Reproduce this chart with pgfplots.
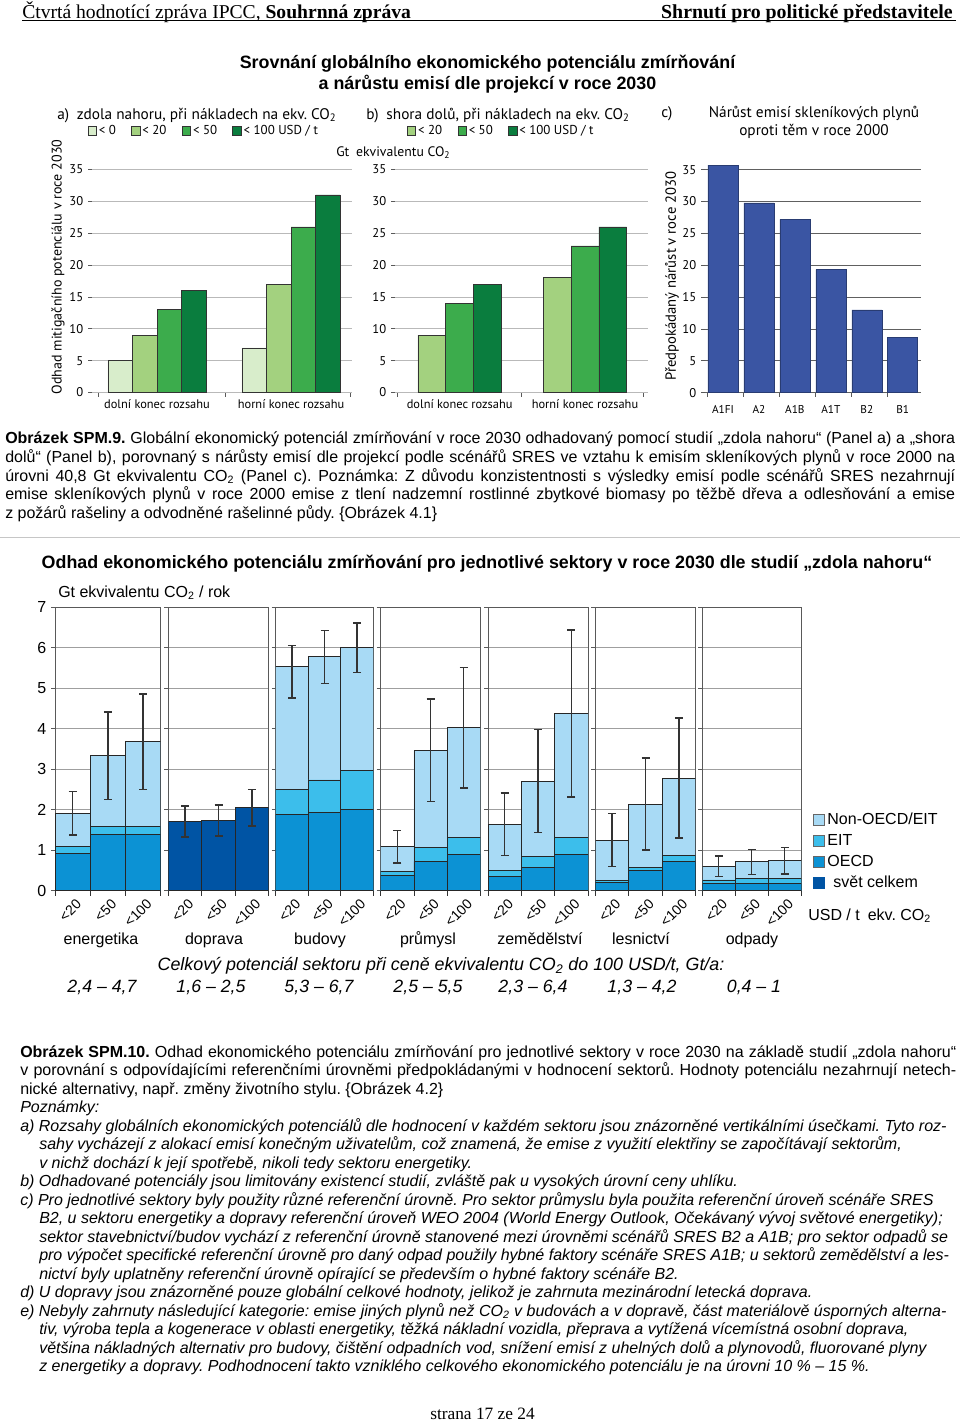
\documentclass[border=0pt]{standalone}
\usepackage{fontspec}
\setmainfont{Liberation Sans}
\newfontfamily\timesf{Liberation Serif}
\newfontfamily\myr{PT Sans}
\usepackage{pgfplots}
\usepackage{pgfplotstable}
\pgfplotsset{compat=1.18}
\pgfplotsset{/pgf/number format/assume math mode=true}
\newcommand{\fs}[1]{\fontsize{#1}{#1}\selectfont}
\frenchspacing
\definecolor{ca1}{HTML}{D8EDCB}
\definecolor{ca2}{HTML}{A3D17F}
\definecolor{ca3}{HTML}{3CAC4C}
\definecolor{ca4}{HTML}{0A7D3E}
\definecolor{cc}{HTML}{3A55A3}
\definecolor{cnon}{HTML}{A8DAF5}
\definecolor{ceit}{HTML}{3CBEEB}
\definecolor{coecd}{HTML}{0C92D4}
\definecolor{csvet}{HTML}{0054A4}

\pgfplotstableread{
x oecd eit tot hi lo
0.5 0.92 1.09 1.90 2.45 1.37
1.5 1.38 1.59 3.34 4.41 2.25
2.5 1.38 1.59 3.67 4.85 2.49
}\tenerg
\pgfplotstableread{
x tot hi lo
0.5 1.71 2.09 1.32
1.5 1.73 2.11 1.35
2.5 2.04 2.49 1.59
}\tdopr
\pgfplotstableread{
x oecd eit tot hi lo
0.5 1.87 2.49 5.53 6.05 4.75
1.5 1.93 2.73 5.77 6.42 5.12
2.5 2.00 2.96 6.01 6.61 5.38
}\tbud
\pgfplotstableread{
x oecd eit tot hi lo
0.5 0.38 0.47 1.09 1.49 0.68
1.5 0.72 1.06 3.46 4.73 2.19
2.5 0.90 1.30 4.02 5.50 2.53
}\tprum
\pgfplotstableread{
x oecd eit tot hi lo
0.5 0.34 0.49 1.64 2.41 0.87
1.5 0.56 0.83 2.70 3.98 1.44
2.5 0.89 1.32 4.37 6.43 2.31
}\tzem
\pgfplotstableread{
x oecd eit tot hi lo
0.5 0.19 0.24 1.24 1.90 0.59
1.5 0.49 0.57 2.13 3.27 1.00
2.5 0.72 0.87 2.77 4.26 1.30
}\tles
\pgfplotstableread{
x oecd eit tot hi lo
0.5 0.18 0.26 0.59 0.85 0.34
1.5 0.18 0.30 0.71 1.02 0.40
2.5 0.18 0.30 0.74 1.07 0.41
}\todp

\pgfplotsset{
 topax/.style={scale only axis, anchor=south west, height=167.25pt, ymin=0, ymax=35,
   ytick={0,5,...,35}, ymajorgrids, grid style={gray!55, line width=0.5pt},
   axis line style={draw=none}, ytick pos=left, xtick pos=bottom, tick align=outside,
   major tick length=3pt, tick style={gray!70!black, line width=0.5pt},
   tick label style={font=\myr\fs{9.5}}, xticklabels={},
   extra x tick style={major tick length=0pt, grid=none, tick label style={yshift=-2pt, font=\myr\fs{9.3}}},
   clip=false},
 lowax/.style={scale only axis, anchor=south west, height=212.6pt,
   xmin=0, xmax=3, ymin=0, ymax=7, ytick={0,...,7}, yticklabels={},
   ymajorgrids, grid style={gray!75, line width=0.6pt},
   axis line style={gray!70!black, line width=0.6pt},
   tick align=outside, ytick pos=left, xtick pos=bottom,
   major tick length=3pt, tick style={gray!70!black, line width=0.6pt},
   xtick={0.5,1.5,2.5}, xticklabels={<20,<50,<100},
   major x tick style={draw=none},
   minor xtick={0,1,2,3}, minor tick length=4pt, minor x tick style={black!80, line width=0.6pt},
   xticklabel style={font=\fs{10.5}, xshift=5pt, yshift=-5pt, rotate=45, anchor=east, inner sep=0.5pt},
   yticklabel style={font=\fs{12}}},
 barst/.style={ybar, bar width=1, bar shift=0pt, draw=black!85, line width=0.6pt, forget plot},
 errst/.style={forget plot, draw=none, mark=none,
   error bars/y dir=both, error bars/y explicit,
   error bars/error bar style={draw=black!80, line width=1pt},
   error bars/error mark options={rotate=90, mark size=3pt, draw=black!80, line width=1pt}},
 toplegend/.style={draw=none, fill=none, font=\myr\fs{9.7},
    /tikz/every even column/.append style={column sep=10pt}, nodes={inner sep=1.5pt}},
}
\newcommand{\stackbars}[1]{%
 \addplot[barst, fill=cnon] table[x=x,y=tot]{#1};
 \addplot[barst, fill=ceit] table[x=x,y=eit]{#1};
 \addplot[barst, fill=coecd] table[x=x,y=oecd]{#1};
 \addplot[errst] table[x=x,y=tot,y error plus expr=\thisrow{hi}-\thisrow{tot},y error minus expr=\thisrow{tot}-\thisrow{lo}]{#1};
}

\begin{document}
\begin{tikzpicture}[x=0.75pt,y=-0.75pt]
\path[use as bounding box] (0,0) rectangle (960,1423);

% header
\node[anchor=base west,inner sep=0pt,font=\timesf\fs{14.7}] at (22,18.3) {Čtvrtá hodnotící zpráva IPCC, \textbf{Souhrnná zpráva}};
\node[anchor=base east,inner sep=0pt,font=\timesf\bfseries\fs{14.9}] at (953,18.3) {Shrnutí pro politické představitele};
\draw[line width=0.75pt] (22,21) -- (956,21);

% title
\node[anchor=base,inner sep=0pt,font=\bfseries\fs{13.4}] at (487.5,68.5) {Srovnání globálního ekonomického potenciálu zmírňování};
\node[anchor=base,inner sep=0pt,font=\bfseries\fs{13.4}] at (487.5,89.5) {a nárůstu emisí dle projekcí v roce 2030};

% panel titles
\node[anchor=base west,inner sep=0pt,font=\myr\fs{11.5}] at (57,119.5) {a)\enspace zdola nahoru, při nákladech na ekv. CO\textsubscript{2}};
\node[anchor=base west,inner sep=0pt,font=\myr\fs{11.5}] at (366,119.5) {b)\enspace shora dolů, při nákladech na ekv. CO\textsubscript{2}};
\node[anchor=base west,inner sep=0pt,font=\myr\fs{11.5}] at (661,117.5) {c)};
\node[anchor=base,inner sep=0pt,font=\myr\fs{11.5}] at (814,117.5) {Nárůst emisí skleníkových plynů};
\node[anchor=base,inner sep=0pt,font=\myr\fs{11.5}] at (814,135.5) {oproti těm v roce 2000};
\node[anchor=base west,inner sep=0pt,font=\myr\fs{10.3}] at (336,156.5) {Gt\enspace ekvivalentu CO\textsubscript{2}};
\node[rotate=90,inner sep=0pt,font=\myr\fs{10.5}] at (58,267) {Odhad mitigačního potenciálu v roce 2030};
\node[rotate=90,inner sep=0pt,font=\myr\fs{11}] at (672,276) {Předpokádaný nárůst v roce 2030};

% panel a
\begin{axis}[topax, at={(69pt,-294.375pt)}, width=195pt,
  xmin=-0.485, xmax=1.455, xtick={-0.44,0.507,1.44},
  extra x ticks={0,1}, extra x tick labels={dolní konec rozsahu,horní konec rozsahu},
  ybar=0pt, bar width=18.4pt,
  legend columns=4,
  legend style={at={(0.43,1.1726)}, anchor=center, toplegend},
  legend image code/.code={\draw[#1] (0pt,-3.2pt) rectangle (6.4pt,3.2pt);}]
\addplot[fill=ca1, draw=black!80, line width=0.5pt] coordinates {(0,5) (1,7)};
\addplot[fill=ca2, draw=black!80, line width=0.5pt] coordinates {(0,9) (1,17)};
\addplot[fill=ca3, draw=black!80, line width=0.5pt] coordinates {(0,13) (1,26)};
\addplot[fill=ca4, draw=black!80, line width=0.5pt] coordinates {(0,16) (1,31)};
\legend{< 0,< 20,< 50,< 100 USD / t}
\end{axis}

% panel b
\begin{axis}[topax, at={(296.25pt,-294.375pt)}, width=189.75pt,
  xmin=-0.516, xmax=1.503, xtick={-0.495,0.495,1.463},
  extra x ticks={0,1}, extra x tick labels={dolní konec rozsahu,horní konec rozsahu},
  ybar=0pt, bar width=20.85pt,
  legend columns=3,
  legend style={at={(0.42,1.1726)}, anchor=center, toplegend},
  legend image code/.code={\draw[#1] (0pt,-3.2pt) rectangle (6.4pt,3.2pt);}]
\addplot[fill=ca2, draw=black!80, line width=0.5pt] coordinates {(0,9) (1,18)};
\addplot[fill=ca3, draw=black!80, line width=0.5pt] coordinates {(0,14) (1,23)};
\addplot[fill=ca4, draw=black!80, line width=0.5pt] coordinates {(0,17) (1,26)};
\legend{< 20,< 50,< 100 USD / t}
\end{axis}

% panel c
\begin{axis}[topax, at={(528.75pt,-294.5pt)}, width=161.8pt,
  xmin=-0.5, xmax=5.5, xtick={-0.44,0.56,1.56,2.56,3.56,4.56},
  extra x ticks={0,1,2,3,4,5}, extra x tick labels={A1FI,A2,A1B,A1T,B2,B1},
  extra x tick style={major tick length=0pt, grid=none, tick label style={yshift=-4pt, font=\myr\fs{8.5}}},
  grid style={gray!75!black, line width=0.5pt}]
\addplot[ybar, bar width=22.5pt, fill=cc, draw=cc!70!black, line width=0.4pt]
  coordinates {(0,35.7) (1,29.8) (2,27.2) (3,19.3) (4,13.0) (5,8.7)};
\end{axis}

% caption SPM.9
\node[anchor=base west,inner sep=0pt,font=\fs{12}] at (5,443.5) {\hbox to 712.5pt{\textbf{Obrázek SPM.9.} Globální ekonomický potenciál zmírňování v roce 2030 odhadovaný pomocí studií „zdola nahoru“ (Panel a) a „shora}};
\node[anchor=base west,inner sep=0pt,font=\fs{12}] at (5,462.25) {\hbox to 712.5pt{dolů“ (Panel b), porovnaný s nárůsty emisí dle projekcí podle scénářů SRES ve vztahu k emisím skleníkových plynů v roce 2000 na}};
\node[anchor=base west,inner sep=0pt,font=\fs{12}] at (5,481) {\hbox to 712.5pt{úrovni 40,8 Gt ekvivalentu CO\textsubscript{2} (Panel c). Poznámka: Z důvodu konzistentnosti s výsledky emisí podle scénářů SRES nezahrnují}};
\node[anchor=base west,inner sep=0pt,font=\fs{12}] at (5,499.75) {\hbox to 712.5pt{emise skleníkových plynů v roce 2000 emise z tlení nadzemní rostlinné zbytkové biomasy po těžbě dřeva a odlesňování a emise}};
\node[anchor=base west,inner sep=0pt,font=\fs{12}] at (5,518.5) {z požárů rašeliny a odvodněné rašelinné půdy. \{Obrázek 4.1\}};
\draw[gray!45, line width=0.5pt] (0,537) -- (960,537);

% lower title
\node[anchor=base,inner sep=0pt,font=\bfseries\fs{13.4}] at (487,568) {Odhad ekonomického potenciálu zmírňování pro jednotlivé sektory v roce 2030 dle studií „zdola nahoru“};
\node[anchor=base west,inner sep=0pt,font=\fs{12}] at (58,597.5) {Gt ekvivalentu CO\textsubscript{2} / rok};

% lower panels
\begin{axis}[lowax, at={(41.25pt,-667.875pt)}, width=79.3pt, yticklabels={0,1,2,3,4,5,6,7}]
\stackbars{\tenerg}
\end{axis}
\begin{axis}[lowax, at={(126.225pt,-667.875pt)}, width=75.3pt]
\addplot[barst, fill=csvet] table[x=x,y=tot]{\tdopr};
\addplot[errst] table[x=x,y=tot,y error plus expr=\thisrow{hi}-\thisrow{tot},y error minus expr=\thisrow{tot}-\thisrow{lo}]{\tdopr};
\end{axis}
\begin{axis}[lowax, at={(206.775pt,-667.875pt)}, width=73.2pt]
\stackbars{\tbud}
\end{axis}
\begin{axis}[lowax, at={(285.525pt,-667.875pt)}, width=74.7pt]
\stackbars{\tprum}
\end{axis}
\begin{axis}[lowax, at={(366pt,-667.875pt)}, width=75pt]
\stackbars{\tzem}
\end{axis}
\begin{axis}[lowax, at={(446.475pt,-667.875pt)}, width=75.3pt]
\stackbars{\tles}
\end{axis}
\begin{axis}[lowax, at={(526.725pt,-667.875pt)}, width=74.25pt,
  legend style={at={(1.078,0.296)}, anchor=north west, draw=none, fill=none, font=\fs{12},
    row sep=0.25pt, nodes={inner sep=2pt, text height=9pt, text depth=2.5pt}},
  legend cell align=left,
  legend image code/.code={\draw[#1] (0pt,-4.1pt) rectangle (8.2pt,4.1pt);}]
\stackbars{\todp}
\addlegendimage{fill=cnon, draw=black!60}
\addlegendentry{Non-OECD/EIT}
\addlegendimage{fill=ceit, draw=black!60}
\addlegendentry{EIT}
\addlegendimage{fill=coecd, draw=black!60}
\addlegendentry{OECD}
\addlegendimage{fill=csvet, draw=csvet}
\addlegendentry{\hspace{4.5pt}svět celkem}
\end{axis}

\node[anchor=base west,inner sep=0pt,font=\fs{12}] at (808,920.5) {USD / t\enspace ekv. CO\textsubscript{2}};
\foreach \xx/\nm in {101/energetika,214/doprava,320/budovy,428/průmysl,540/zemědělství,641/lesnictví,752/odpady}
  \node[anchor=base,inner sep=0pt,font=\fs{12}] at (\xx,944.5) {\nm};
\node[anchor=base,inner sep=0pt,font=\itshape\fs{13.4}] at (441,970.5) {Celkový potenciál sektoru při ceně ekvivalentu CO\textsubscript{2} do 100 USD/t, Gt/a:};
\foreach \xx/\nm in {102/{2,4 – 4,7},211/{1,6 – 2,5},319/{5,3 – 6,7},428/{2,5 – 5,5},533/{2,3 – 6,4},642/{1,3 – 4,2},754/{0,4 – 1}}
  \node[anchor=base,inner sep=0pt,font=\itshape\fs{13.3}] at (\xx,992.5) {\nm};

% caption SPM.10
\node[anchor=base west,inner sep=0pt,font=\fs{12}] at (20,1057) {\hbox to 702pt{\textbf{Obrázek SPM.10.} Odhad ekonomického potenciálu zmírňování pro jednotlivé sektory v roce 2030 na základě studií „zdola nahoru“}};
\node[anchor=base west,inner sep=0pt,font=\fs{12}] at (20,1075.5) {\hbox to 702pt{v porovnání s odpovídajícími referenčními úrovněmi předpokládanými v hodnocení sektorů. Hodnoty potenciálu nezahrnují netech-}};
\node[anchor=base west,inner sep=0pt,font=\fs{12}] at (20,1094) {nické alternativy, např. změny životního stylu. \{Obrázek 4.2\}};
\begin{scope}[every node/.style={anchor=base west,inner sep=0pt,font=\itshape\fs{12}}]
\node at (20,1112.5) {Poznámky:};
\node at (20,1131) {a) Rozsahy globálních ekonomických potenciálů dle hodnocení v každém sektoru jsou znázorněné vertikálními úsečkami. Tyto roz-};
\node at (39,1149.5) {sahy vycházejí z alokací emisí konečným uživatelům, což znamená, že emise z využití elektřiny se započítávají sektorům,};
\node at (39,1168) {v nichž dochází k její spotřebě, nikoli tedy sektoru energetiky.};
\node at (20,1186.5) {b) Odhadované potenciály jsou limitovány existencí studií, zvláště pak u vysokých úrovní ceny uhlíku.};
\node at (20,1205) {c) Pro jednotlivé sektory byly použity různé referenční úrovně. Pro sektor průmyslu byla použita referenční úroveň scénáře SRES};
\node at (39,1223.5) {B2, u sektoru energetiky a dopravy referenční úroveň WEO 2004 (World Energy Outlook, Očekávaný vývoj světové energetiky);};
\node at (39,1242) {sektor stavebnictví/budov vychází z referenční úrovně stanovené mezi úrovněmi scénářů SRES B2 a A1B; pro sektor odpadů se};
\node at (39,1260.5) {pro výpočet specifické referenční úrovně pro daný odpad použily hybné faktory scénáře SRES A1B; u sektorů zemědělství a les-};
\node at (39,1279) {nictví byly uplatněny referenční úrovně opírající se především o hybné faktory scénáře B2.};
\node at (20,1297.5) {d) U dopravy jsou znázorněné pouze globální celkové hodnoty, jelikož je zahrnuta mezinárodní letecká doprava.};
\node at (20,1316) {e) Nebyly zahrnuty následující kategorie: emise jiných plynů než CO\textsubscript{2} v budovách a v dopravě, část materiálově úsporných alterna-};
\node at (39,1334.5) {tiv, výroba tepla a kogenerace v oblasti energetiky, těžká nákladní vozidla, přeprava a vytížená vícemístná osobní doprava,};
\node at (39,1353) {většina nákladných alternativ pro budovy, čištění odpadních vod, snížení emisí z uhelných dolů a plynovodů, fluorované plyny};
\node at (39,1371.5) {z energetiky a dopravy. Podhodnocení takto vzniklého celkového ekonomického potenciálu je na úrovni 10~\% – 15~\%.};
\end{scope}
\node[anchor=base,inner sep=0pt,font=\timesf\fs{13}] at (482.5,1419.5) {strana 17 ze 24};
\end{tikzpicture}
\end{document}
